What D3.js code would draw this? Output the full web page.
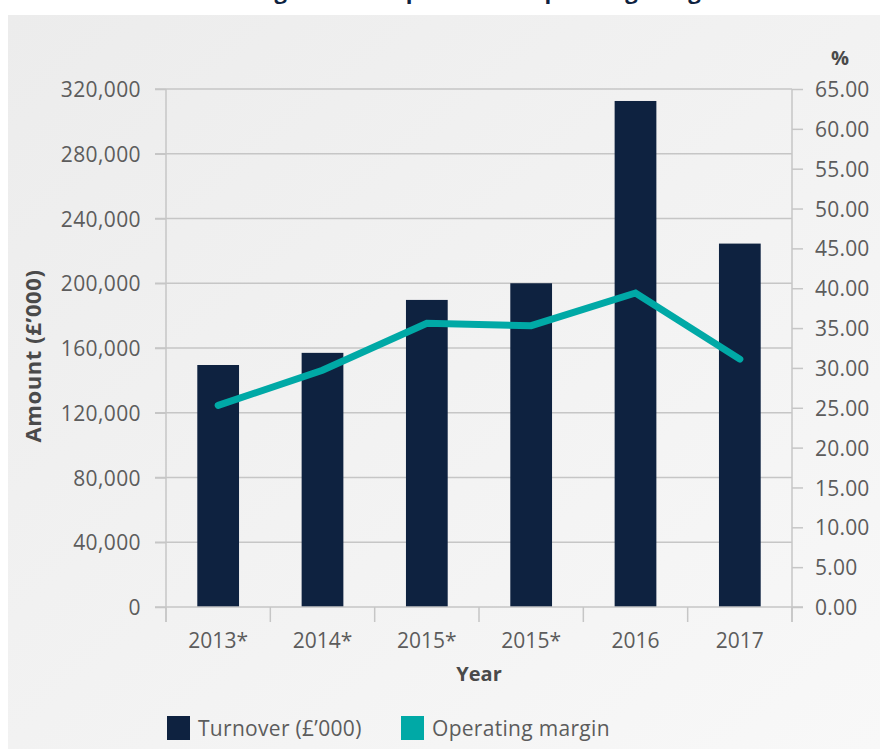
<!DOCTYPE html>
<html>
<head>
<meta charset="utf-8">
<script src="https://cdn.jsdelivr.net/npm/d3@7/dist/d3.min.js"></script>
<style>
  html, body { margin: 0; padding: 0; background: #ffffff; }
  svg { display: block; }
  text { font-family: "Open Sans", "DejaVu Sans", sans-serif; }
</style>
</head>
<body>
<svg id="chart" width="880" height="749"></svg>
<script>
const years = ["2013*", "2014*", "2015*", "2015* ", "2016", "2017"];
const yearLabels = ["2013*", "2014*", "2015*", "2015*", "2016", "2017"];
const turnover = [149500, 157000, 189700, 200000, 312600, 224500];
const margin = [25.3, 29.7, 35.6, 35.3, 39.4, 31.1];
const leftTicks = [0, 40000, 80000, 120000, 160000, 200000, 240000, 280000, 320000];
const rightTicks = [0, 5, 10, 15, 20, 25, 30, 35, 40, 45, 50, 55, 60, 65];

const svg = d3.select("#chart");
const W = 880, H = 749;

const defs = svg.append("defs");
const grad = defs.append("linearGradient").attr("id", "bg")
  .attr("x1", "0%").attr("y1", "0%").attr("x2", "100%").attr("y2", "100%");
grad.append("stop").attr("offset", "0%").attr("stop-color", "#ececec");
grad.append("stop").attr("offset", "100%").attr("stop-color", "#f8f8f8");

// title, clipped at the top edge as in the reference
svg.append("text")
  .attr("x", 445).attr("y", -1)
  .attr("text-anchor", "middle")
  .attr("font-size", 22).attr("font-weight", 700)
  .attr("fill", "#0e2240")
  .text("Turnover growth compared with operating margin");

svg.append("rect").attr("x", 8).attr("y", 15).attr("width", W - 8).attr("height", H - 15)
  .attr("fill", "url(#bg)");

const pLeft = 166, pRight = 792, pTop = 89, pBottom = 607;

const x = d3.scaleBand().domain(years).range([pLeft, pRight]).paddingInner(0).paddingOuter(0);
const yL = d3.scaleLinear().domain([0, 320000]).range([pBottom, pTop]);
const yR = d3.scaleLinear().domain([0, 65]).range([pBottom, pTop]);

const gridColor = "#c6c6c6";
const textColor = "#5c5c5c";
const fs = 21;

// gridlines
svg.append("g").selectAll("line").data(leftTicks.filter(d => d > 0)).join("line")
  .attr("x1", 155).attr("x2", pRight)
  .attr("y1", d => yL(d)).attr("y2", d => yL(d))
  .attr("stroke", gridColor).attr("stroke-width", 1.5);

// left axis
const gL = svg.append("g").attr("transform", `translate(${pLeft},0)`)
  .call(d3.axisLeft(yL).tickValues(leftTicks).tickSize(11).tickPadding(14)
    .tickFormat(d3.format(",")));
gL.select(".domain").remove();
gL.append("line").attr("x1", 0).attr("x2", 0).attr("y1", pTop).attr("y2", 622)
  .attr("stroke", gridColor).attr("stroke-width", 1.5);
gL.selectAll(".tick line").attr("stroke", gridColor).attr("stroke-width", 1.5);
gL.selectAll(".tick text").attr("font-size", fs).attr("fill", textColor)
  .attr("letter-spacing", 0.4)
  .attr("font-family", "'Open Sans', sans-serif").attr("dy", "0.36em");

// right axis
const gR = svg.append("g").attr("transform", `translate(${pRight},0)`)
  .call(d3.axisRight(yR).tickValues(rightTicks).tickSize(11).tickPadding(12)
    .tickFormat(d3.format(".2f")));
gR.select(".domain").remove();
gR.append("line").attr("x1", 0).attr("x2", 0).attr("y1", pTop).attr("y2", 622)
  .attr("stroke", gridColor).attr("stroke-width", 1.5);
gR.selectAll(".tick line").attr("stroke", gridColor).attr("stroke-width", 1.5);
gR.selectAll(".tick text").attr("font-size", fs).attr("fill", textColor)
  .attr("letter-spacing", 0.2)
  .attr("font-family", "'Open Sans', sans-serif").attr("dy", "0.36em");

// bars
const barW = x.bandwidth() * 0.4;
svg.append("g").selectAll("rect").data(turnover).join("rect")
  .attr("x", (d, i) => x(years[i]) + (x.bandwidth() - barW) / 2)
  .attr("width", barW)
  .attr("y", d => yL(d))
  .attr("height", d => pBottom - yL(d))
  .attr("fill", "#0e2240");

// bottom axis
const gB = svg.append("g").attr("transform", `translate(0,${pBottom})`);
gB.append("line").attr("x1", 155).attr("x2", 803).attr("y1", 0).attr("y2", 0)
  .attr("stroke", gridColor).attr("stroke-width", 1.5);
const boundaries = years.map(d => x(d)).concat([pRight]);
gB.selectAll("line.tk").data(boundaries).join("line").attr("class", "tk")
  .attr("x1", d => d).attr("x2", d => d).attr("y1", 0).attr("y2", 15)
  .attr("stroke", gridColor).attr("stroke-width", 1.5);
gB.selectAll("text.lbl").data(years).join("text").attr("class", "lbl")
  .attr("x", d => x(d) + x.bandwidth() / 2).attr("y", 41)
  .attr("text-anchor", "middle").attr("font-size", fs).attr("fill", textColor)
  .text((d, i) => yearLabels[i]);

// line
const line = d3.line()
  .x((d, i) => x(years[i]) + x.bandwidth() / 2)
  .y(d => yR(d));
svg.append("path").datum(margin)
  .attr("d", line)
  .attr("fill", "none").attr("stroke", "#00a9a6").attr("stroke-width", 7)
  .attr("stroke-linecap", "round").attr("stroke-linejoin", "miter");

// axis titles
svg.append("text").attr("x", pLeft + (pRight - pLeft) / 2).attr("y", 681)
  .attr("text-anchor", "middle").attr("font-size", 20).attr("font-weight", 700)
  .attr("fill", "#4a4a4a").text("Year");
svg.append("text").attr("transform", "translate(41,356) rotate(-90)")
  .attr("text-anchor", "middle").attr("font-size", 22).attr("font-weight", 700)
  .attr("letter-spacing", 0.6)
  .attr("fill", "#4a4a4a").text("Amount (£’000)");
svg.append("text").attr("x", 840).attr("y", 65)
  .attr("text-anchor", "middle").attr("font-size", 20).attr("font-weight", 700)
  .attr("fill", "#4a4a4a").text("%");

// legend
const legend = [
  { label: "Turnover (£’000)", color: "#0e2240", x: 167 },
  { label: "Operating margin", color: "#00a9a6", x: 401 }
];
const lg = svg.append("g");
lg.selectAll("rect").data(legend).join("rect")
  .attr("x", d => d.x).attr("y", 716).attr("width", 23).attr("height", 24)
  .attr("fill", d => d.color);
lg.selectAll("text").data(legend).join("text")
  .attr("x", d => d.x + 31).attr("y", 736)
  .attr("font-size", fs).attr("letter-spacing", 0.3).attr("fill", textColor)
  .text(d => d.label);
</script>
</body>
</html>
